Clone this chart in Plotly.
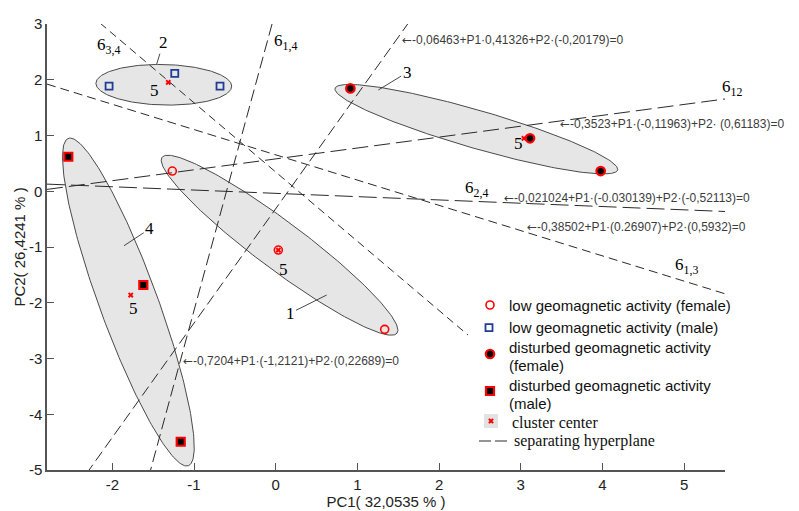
import numpy as np
import plotly.graph_objects as go

# ---------------- data ----------------
low_f_x = [-1.266, 0.032, 1.334]
low_f_y = [0.362, -1.055, -2.477]
low_m_x = [-2.040, -1.236, -0.682]
low_m_y = [1.887, 2.114, 1.887]
dist_f_x = [0.914, 3.113, 3.978]
dist_f_y = [1.845, 0.949, 0.362]
dist_m_x = [-2.539, -1.621, -1.163]
dist_m_y = [0.619, -1.682, -4.493]

center_x = [0.032, -1.315, 3.039, -1.775]
center_y = [-1.055, 1.953, 0.949, -1.862]

# cluster ellipses: centre and two conjugate semi-axis vectors (data units)
ell_ids = ["1", "2", "3", "4"]
ell_cx = [0.047, -1.370, 2.456, -1.804]
ell_cy = [-0.968, 1.910, 1.113, -1.987]
ell_ux = [1.438, 0.831, 1.730, 0.7344]
ell_uy = [-1.577, -0.0233, -0.7326, -2.936]
ell_vx = [-0.176, -0.0048, -0.0646, -0.3333]
ell_vy = [-0.344, 0.364, -0.3273, -0.179]

# separating hyperplanes (end points)
hp_ids = ["12", "1,3", "1,4", "2,3", "2,4", "3,4"]
hp_x0 = [-2.8, -2.8, -0.045, 1.632, -2.8, -2.151]
hp_y0 = [0.033, 1.922, 3.0, 3.034, 0.128, 3.017]
hp_x1 = [5.5, 5.5, -1.532, -2.285, 5.5, 2.354]
hp_y1 = [1.655, -1.839, -5.0, -5.0, -0.363, -2.579]
hp_equations = [
    "-0,3523+P1\u00b7(-0,11963)+P2\u00b7 (0,61183)=0",
    "-0,38502+P1\u00b7(0.26907)+P2\u00b7(0,5932)=0",
    "-0,7204+P1\u00b7(-1,2121)+P2\u00b7(0,22689)=0",
    "-0,06463+P1\u00b70,41326+P2\u00b7(-0,20179)=0",
    "-0,021024+P1\u00b7(-0.030139)+P2\u00b7(-0,52113)=0",
    "0,076959+P1\u00b7(-0,28229)+P2\u00b7 (-0,22845)=0",
]

x_ticks = [-2, -1, 0, 1, 2, 3, 4, 5]
x_ticklabels = ["-2", "-1", "0", "1", "2", "3", "4", "5"]
y_ticks = [-5, -4, -3, -2, -1, 0, 1, 2, 3]
y_ticklabels = ["-5", "-4", "-3", "-2", "-1", "0", "1", "2", "3"]

legend_labels = [
    "low geomagnetic activity (female)",
    "low geomagnetic activity (male)",
    "disturbed geomagnetic activity|(female)",
    "disturbed geomagnetic activity|(male)",
    "cluster center",
    "separating hyperplane",
]
legend_numbers = ["1", "2", "3", "4", "5", "6<sub>C1,C2</sub>"]

# ---------------- styles / layout positions ----------------
SANS = "Liberation Sans, Arial, sans-serif"
SERIF = "Liberation Serif, Times New Roman, serif"
RED = "#ff0000"
BLUE = "#1f3c96"
ELL_FILL = "#e6e6e6"
ELL_LINE = "#4a4a4a"
HP_COLOR = "#2a2a2a"
EQ_COLOR = "#3c3c3c"
ARROW = '<span style="font-family:DejaVu Sans">\u2190</span>'

hp_dash = ["16px,6px", "9px,5px", "12px,5px", "11px,5px", "18px,6px", "8px,5px"]
# label positions (data coords): "6_xx" label, equation label
hp_label_pos = [(5.435, 1.847), (4.863, -1.332), (-0.045, 2.686),
                (1.632, 3.138), (2.293, 0.037), (-2.216, 2.597)]
hp_eq_pos = [(3.455, 1.206), (3.056, -0.647), (-1.155, -3.040),
             (1.518, 2.713), (2.770, -0.126), (-2.183, 3.131)]

fig = go.Figure()

# ellipses
t = np.linspace(0, 2 * np.pi, 240)
for i in range(len(ell_ids)):
    ex = ell_cx[i] + ell_ux[i] * np.cos(t) + ell_vx[i] * np.sin(t)
    ey = ell_cy[i] + ell_uy[i] * np.cos(t) + ell_vy[i] * np.sin(t)
    fig.add_trace(go.Scatter(x=ex, y=ey, mode="lines", fill="toself",
                             fillcolor=ELL_FILL,
                             line=dict(color=ELL_LINE, width=1),
                             hoverinfo="skip", showlegend=False))

# hyperplanes
for i in range(len(hp_ids)):
    fig.add_trace(go.Scatter(x=[hp_x0[i], hp_x1[i]], y=[hp_y0[i], hp_y1[i]],
                             mode="lines",
                             line=dict(color=HP_COLOR, width=1, dash=hp_dash[i]),
                             hoverinfo="skip", showlegend=False))

# points
fig.add_trace(go.Scatter(x=low_f_x, y=low_f_y, mode="markers",
                         marker=dict(symbol="circle-open", size=8, color=RED,
                                     line=dict(width=1.6, color=RED)),
                         name="low geomagnetic activity (female)"))
fig.add_trace(go.Scatter(x=low_m_x, y=low_m_y, mode="markers",
                         marker=dict(symbol="square-open", size=7, color=BLUE,
                                     line=dict(width=1.8, color=BLUE)),
                         name="low geomagnetic activity (male)"))
fig.add_trace(go.Scatter(x=dist_f_x, y=dist_f_y, mode="markers",
                         marker=dict(symbol="circle", size=8.5, color="black",
                                     line=dict(width=2.2, color=RED)),
                         name="disturbed geomagnetic activity (female)"))
fig.add_trace(go.Scatter(x=dist_m_x, y=dist_m_y, mode="markers",
                         marker=dict(symbol="square", size=8, color="black",
                                     line=dict(width=2.2, color=RED)),
                         name="disturbed geomagnetic activity (male)"))
fig.add_trace(go.Scatter(x=center_x, y=center_y, mode="markers",
                         marker=dict(symbol="x", size=5, color=RED,
                                     line=dict(width=0)),
                         name="cluster center"))

ann = []
# hyperplane labels and equations
for i in range(len(hp_ids)):
    lx, ly = hp_label_pos[i]
    ann.append(dict(x=lx, y=ly, xref="x", yref="y", xanchor="left",
                    yanchor="middle", showarrow=False,
                    text="6<sub>%s</sub>" % hp_ids[i],
                    font=dict(family=SERIF, size=17, color="black")))
    ex_, ey_ = hp_eq_pos[i]
    ann.append(dict(x=ex_, y=ey_, xref="x", yref="y", xanchor="left",
                    yanchor="middle", showarrow=False,
                    text=ARROW + hp_equations[i],
                    font=dict(family=SANS, size=12, color=EQ_COLOR)))

# "5" labels near cluster centres
five_pos = [(0.093, -1.395), (-1.483, 1.807), (2.966, 0.857), (-1.738, -2.112)]
for (fx, fy) in five_pos:
    ann.append(dict(x=fx, y=fy, xref="x", yref="y", showarrow=False, text="5",
                    font=dict(family=SERIF, size=17, color="black")))

# cluster number labels with leader lines
tips = [(0.624, -1.861, -36.7, 18.3), (-1.457, 2.283, 6.6, -21.3),
        (1.256, 1.816, 28.7, -17.5), (-1.857, -0.977, 25.7, -16.9)]
for i, (tx, ty, ax, ay) in enumerate(tips):
    ann.append(dict(x=tx, y=ty, xref="x", yref="y", ax=ax, ay=ay,
                    showarrow=True, arrowhead=0, arrowwidth=0.9,
                    arrowcolor="#333", text=ell_ids[i],
                    font=dict(family=SERIF, size=17, color="black")))

# ---------------- custom legend (overlay axes in pixel units) ----------------
LX = dict(xaxis="x2", yaxis="y2", hoverinfo="skip", showlegend=False)
fig.add_trace(go.Scatter(x=[490], y=[305], mode="markers",
                         marker=dict(symbol="circle-open", size=8, color=RED,
                                     line=dict(width=1.6, color=RED)), **LX))
fig.add_trace(go.Scatter(x=[489], y=[327.7], mode="markers",
                         marker=dict(symbol="square-open", size=7, color=BLUE,
                                     line=dict(width=1.8, color=BLUE)), **LX))
fig.add_trace(go.Scatter(x=[490], y=[354], mode="markers",
                         marker=dict(symbol="circle", size=8.5, color="black",
                                     line=dict(width=2.2, color=RED)), **LX))
fig.add_trace(go.Scatter(x=[490], y=[391], mode="markers",
                         marker=dict(symbol="square", size=8, color="black",
                                     line=dict(width=2.2, color=RED)), **LX))
fig.add_trace(go.Scatter(x=[491], y=[421], mode="markers",
                         marker=dict(symbol="square", size=14, color="#e2e2e2",
                                     line=dict(width=0)), **LX))
fig.add_trace(go.Scatter(x=[491], y=[421], mode="markers",
                         marker=dict(symbol="x", size=5, color=RED,
                                     line=dict(width=0)), **LX))
fig.add_trace(go.Scatter(x=[479, 510], y=[441, 441], mode="lines",
                         line=dict(color=HP_COLOR, width=1, dash="12px,4px"), **LX))

leg_rows = [(507, 305), (507, 327.7), (507, 347), (507, 385), (510, 422), (512, 441)]
for i, lab in enumerate(legend_labels):
    lx, ly = leg_rows[i]
    parts = lab.split("|")
    serif = i >= 4
    for k, p in enumerate(parts):
        ann.append(dict(x=lx, y=ly + 18 * k, xref="x2", yref="y2",
                        xanchor="left", yanchor="middle", showarrow=False,
                        text=p,
                        font=dict(family=SERIF if serif else SANS,
                                  size=16 if serif else 15, color="#111")))
num_y = [305, 327, 347, 385, 423]
for i in range(5):
    ann.append(dict(x=748, y=num_y[i], xref="x2", yref="y2", showarrow=False,
                    text=legend_numbers[i],
                    font=dict(family=SERIF, size=17, color="black")))
ann.append(dict(x=743, y=443.5, xref="x2", yref="y2", xanchor="left",
                yanchor="middle", showarrow=False, text=legend_numbers[5],
                font=dict(family=SERIF, size=17, color="black")))

axis_common = dict(showgrid=False, zeroline=False, ticks="inside", ticklen=7,
                   tickcolor="#555", tickwidth=1, showline=True,
                   linecolor="#555", linewidth=1.5, automargin=False,
                   tickfont=dict(family=SANS, size=15, color="#222"))

fig.update_layout(
    width=799, height=511,
    margin=dict(l=47, r=74, t=24, b=41),
    paper_bgcolor="white", plot_bgcolor="white",
    showlegend=False,
    xaxis=dict(range=[-2.8, 5.5], tickmode="array", tickvals=x_ticks,
               ticktext=x_ticklabels,
               title=dict(text="PC1( 32,0535 % )", standoff=3,
                          font=dict(family=SANS, size=15, color="#222")),
               **axis_common),
    yaxis=dict(range=[-5, 3], tickmode="array", tickvals=y_ticks,
               ticktext=y_ticklabels,
               title=dict(text="PC2( 26,4241 % )", standoff=0,
                          font=dict(family=SANS, size=15, color="#222")),
               **axis_common),
    xaxis2=dict(overlaying="x", anchor="y2", range=[47, 725], visible=False),
    yaxis2=dict(overlaying="y", anchor="x2", range=[470, 24], visible=False),
    annotations=ann,
)

fig.write_html("out.html")
